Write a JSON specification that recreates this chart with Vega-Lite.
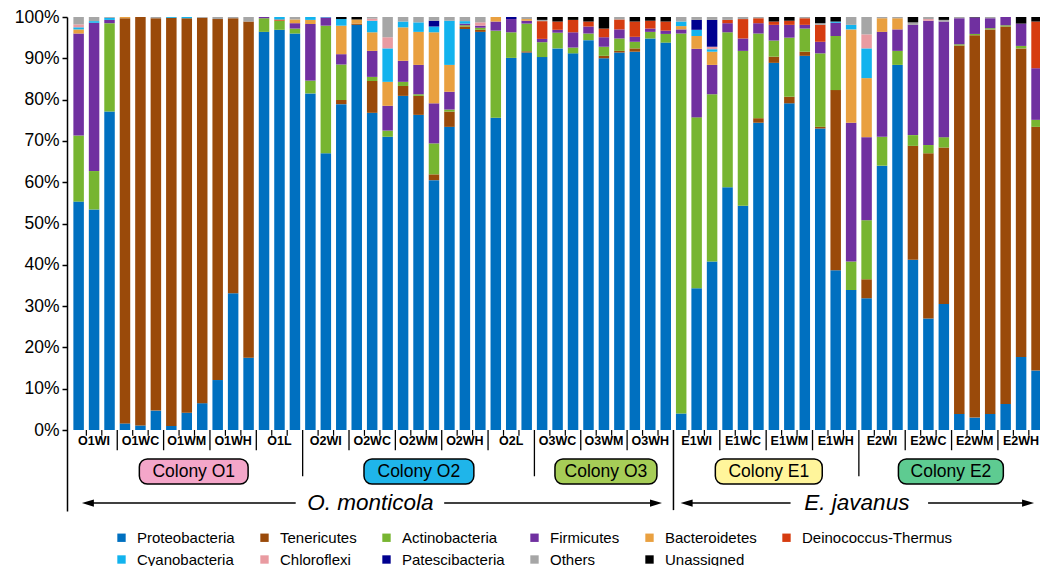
{
  "$schema": "https://vega.github.io/schema/vega-lite/v6.json",
  "width": 973,
  "height": 494,
  "autosize": {"type": "none"},
  "padding": {"left": 67, "top": 17, "right": 0, "bottom": 55},
  "background": "white",
  "config": {"view": {"stroke": null}, "font": "Liberation Sans"},
  "resolve": {"axis": {"x": "independent", "y": "independent"}},
  "datasets": {
    "samples": [
      {"n":1,"g":"O1WI","Proteobacteria":55.3,"Actinobacteria":16.0,"Firmicutes":24.7,"Bacteroidetes":1.0,"Cyanobacteria":0.5,"Chloroflexi":0.7,"Others":1.8},
      {"n":2,"g":"O1WI","Proteobacteria":53.4,"Actinobacteria":9.3,"Firmicutes":35.9,"Cyanobacteria":0.4,"Others":1.0},
      {"n":3,"g":"O1WI","Proteobacteria":77.1,"Actinobacteria":21.4,"Firmicutes":0.8,"Cyanobacteria":0.5,"Others":0.2},
      {"n":4,"g":"O1WC","Proteobacteria":1.6,"Tenericutes":98.1,"Bacteroidetes":0.3},
      {"n":5,"g":"O1WC","Proteobacteria":1.1,"Tenericutes":98.9},
      {"n":6,"g":"O1WC","Proteobacteria":4.7,"Tenericutes":95.0,"Others":0.3},
      {"n":7,"g":"O1WM","Proteobacteria":1.0,"Tenericutes":98.8,"Cyanobacteria":0.2},
      {"n":8,"g":"O1WM","Proteobacteria":4.2,"Tenericutes":95.5,"Cyanobacteria":0.3},
      {"n":9,"g":"O1WM","Proteobacteria":6.5,"Tenericutes":93.3,"Others":0.2},
      {"n":10,"g":"O1WH","Proteobacteria":12.1,"Tenericutes":87.4,"Others":0.5},
      {"n":11,"g":"O1WH","Proteobacteria":33.1,"Tenericutes":66.6,"Others":0.3},
      {"n":12,"g":"O1WH","Proteobacteria":17.5,"Tenericutes":81.4,"Others":1.1},
      {"n":13,"g":"O1L","Proteobacteria":96.4,"Actinobacteria":3.3,"Firmicutes":0.3},
      {"n":14,"g":"O1L","Proteobacteria":96.9,"Actinobacteria":2.2,"Deinococcus-Thermus":0.3,"Cyanobacteria":0.6},
      {"n":15,"g":"O1L","Proteobacteria":96.0,"Actinobacteria":1.2,"Firmicutes":1.3,"Bacteroidetes":0.9,"Others":0.6},
      {"n":16,"g":"O2WI","Proteobacteria":81.5,"Actinobacteria":3.1,"Firmicutes":13.7,"Bacteroidetes":1.0,"Cyanobacteria":0.7},
      {"n":17,"g":"O2WI","Proteobacteria":67.0,"Actinobacteria":30.9,"Firmicutes":2.0,"Cyanobacteria":0.1},
      {"n":18,"g":"O2WI","Proteobacteria":78.9,"Tenericutes":1.0,"Actinobacteria":8.6,"Firmicutes":2.5,"Bacteroidetes":6.9,"Cyanobacteria":1.6,"Unassigned":0.5},
      {"n":19,"g":"O2WC","Proteobacteria":98.1,"Tenericutes":0.3,"Bacteroidetes":1.0,"Unassigned":0.6},
      {"n":20,"g":"O2WC","Proteobacteria":76.8,"Tenericutes":7.7,"Actinobacteria":1.0,"Firmicutes":6.3,"Bacteroidetes":4.5,"Cyanobacteria":2.8,"Chloroflexi":0.5,"Others":0.4},
      {"n":21,"g":"O2WC","Proteobacteria":71.0,"Actinobacteria":1.5,"Firmicutes":6.0,"Bacteroidetes":5.8,"Cyanobacteria":8.1,"Chloroflexi":2.7,"Others":4.9},
      {"n":22,"g":"O2WM","Proteobacteria":80.9,"Tenericutes":2.4,"Actinobacteria":1.0,"Firmicutes":5.1,"Bacteroidetes":8.1,"Cyanobacteria":1.4,"Others":1.1},
      {"n":23,"g":"O2WM","Proteobacteria":76.3,"Tenericutes":4.6,"Actinobacteria":0.4,"Firmicutes":7.1,"Bacteroidetes":8.0,"Cyanobacteria":2.3,"Others":1.3},
      {"n":24,"g":"O2WM","Proteobacteria":60.5,"Tenericutes":1.4,"Actinobacteria":7.5,"Firmicutes":9.7,"Bacteroidetes":17.2,"Cyanobacteria":1.4,"Patescibacteria":1.4,"Others":0.9},
      {"n":25,"g":"O2WH","Proteobacteria":73.4,"Tenericutes":3.7,"Actinobacteria":0.5,"Firmicutes":4.3,"Bacteroidetes":6.5,"Cyanobacteria":10.7,"Others":0.9},
      {"n":26,"g":"O2WH","Proteobacteria":97.1,"Tenericutes":0.6,"Actinobacteria":0.3,"Firmicutes":0.4,"Cyanobacteria":0.6,"Others":1.0},
      {"n":27,"g":"O2WH","Proteobacteria":96.4,"Tenericutes":0.5,"Actinobacteria":0.5,"Firmicutes":0.5,"Chloroflexi":0.8,"Others":1.3},
      {"n":28,"g":"O2L","Proteobacteria":75.6,"Actinobacteria":21.1,"Firmicutes":2.2,"Bacteroidetes":1.1},
      {"n":29,"g":"O2L","Proteobacteria":90.1,"Actinobacteria":6.2,"Firmicutes":3.2,"Patescibacteria":0.5},
      {"n":30,"g":"O2L","Proteobacteria":91.4,"Tenericutes":0.3,"Actinobacteria":6.7,"Firmicutes":0.7,"Bacteroidetes":0.4,"Others":0.5},
      {"n":31,"g":"O3WC","Proteobacteria":90.3,"Actinobacteria":3.6,"Firmicutes":0.8,"Deinococcus-Thermus":4.3,"Others":0.3,"Unassigned":0.7},
      {"n":32,"g":"O3WC","Proteobacteria":92.4,"Actinobacteria":3.8,"Firmicutes":0.7,"Deinococcus-Thermus":2.0,"Unassigned":1.1},
      {"n":33,"g":"O3WC","Proteobacteria":91.2,"Actinobacteria":1.4,"Firmicutes":3.7,"Deinococcus-Thermus":3.0,"Unassigned":0.7},
      {"n":34,"g":"O3WM","Proteobacteria":94.4,"Actinobacteria":1.6,"Firmicutes":1.7,"Deinococcus-Thermus":1.2,"Unassigned":1.1},
      {"n":35,"g":"O3WM","Proteobacteria":90.0,"Tenericutes":0.6,"Actinobacteria":2.2,"Firmicutes":2.3,"Deinococcus-Thermus":2.1,"Unassigned":2.8},
      {"n":36,"g":"O3WM","Proteobacteria":91.4,"Tenericutes":0.4,"Actinobacteria":3.0,"Firmicutes":2.2,"Deinococcus-Thermus":2.4,"Others":0.6},
      {"n":37,"g":"O3WH","Proteobacteria":91.6,"Tenericutes":0.8,"Actinobacteria":1.6,"Firmicutes":1.2,"Deinococcus-Thermus":3.7,"Unassigned":1.1},
      {"n":38,"g":"O3WH","Proteobacteria":94.8,"Actinobacteria":1.6,"Firmicutes":0.8,"Deinococcus-Thermus":1.9,"Unassigned":0.9},
      {"n":39,"g":"O3WH","Proteobacteria":93.8,"Actinobacteria":2.1,"Firmicutes":0.8,"Deinococcus-Thermus":2.2,"Unassigned":1.1},
      {"n":40,"g":"E1WI","Proteobacteria":4.0,"Actinobacteria":92.0,"Firmicutes":1.0,"Bacteroidetes":0.8,"Cyanobacteria":1.1,"Others":1.1},
      {"n":41,"g":"E1WI","Proteobacteria":34.3,"Actinobacteria":41.4,"Firmicutes":16.6,"Bacteroidetes":3.1,"Cyanobacteria":1.5,"Patescibacteria":2.4,"Others":0.7},
      {"n":42,"g":"E1WI","Proteobacteria":40.8,"Actinobacteria":40.5,"Firmicutes":7.1,"Bacteroidetes":3.2,"Cyanobacteria":0.6,"Chloroflexi":0.6,"Patescibacteria":6.5,"Others":0.7},
      {"n":43,"g":"E1WC","Proteobacteria":58.8,"Actinobacteria":37.5,"Firmicutes":2.2,"Deinococcus-Thermus":0.8,"Others":0.7},
      {"n":44,"g":"E1WC","Proteobacteria":54.3,"Actinobacteria":37.5,"Firmicutes":3.0,"Deinococcus-Thermus":4.7,"Others":0.5},
      {"n":45,"g":"E1WC","Proteobacteria":74.4,"Tenericutes":1.1,"Actinobacteria":20.5,"Firmicutes":2.5,"Deinococcus-Thermus":1.2,"Others":0.3},
      {"n":46,"g":"E1WM","Proteobacteria":88.9,"Tenericutes":1.5,"Actinobacteria":3.9,"Firmicutes":3.8,"Deinococcus-Thermus":0.8,"Unassigned":1.1},
      {"n":47,"g":"E1WM","Proteobacteria":79.1,"Tenericutes":1.6,"Actinobacteria":14.3,"Firmicutes":3.1,"Deinococcus-Thermus":1.0,"Unassigned":0.9},
      {"n":48,"g":"E1WM","Proteobacteria":90.6,"Tenericutes":1.0,"Actinobacteria":5.6,"Firmicutes":0.9,"Deinococcus-Thermus":1.6,"Others":0.3},
      {"n":49,"g":"E1WH","Proteobacteria":73.0,"Tenericutes":0.4,"Actinobacteria":17.8,"Firmicutes":2.8,"Deinococcus-Thermus":4.1,"Others":0.4,"Unassigned":1.5},
      {"n":50,"g":"E1WH","Proteobacteria":38.7,"Tenericutes":43.6,"Actinobacteria":13.1,"Firmicutes":3.2,"Cyanobacteria":0.3,"Unassigned":1.1},
      {"n":51,"g":"E1WH","Proteobacteria":33.9,"Actinobacteria":6.9,"Firmicutes":33.6,"Bacteroidetes":22.6,"Cyanobacteria":1.1,"Others":1.9},
      {"n":52,"g":"E2WI","Proteobacteria":31.9,"Tenericutes":4.6,"Actinobacteria":14.3,"Firmicutes":20.1,"Bacteroidetes":14.3,"Cyanobacteria":7.2,"Chloroflexi":3.4,"Others":4.2},
      {"n":53,"g":"E2WI","Proteobacteria":64.0,"Actinobacteria":7.0,"Firmicutes":25.4,"Bacteroidetes":3.3,"Others":0.3},
      {"n":54,"g":"E2WI","Proteobacteria":88.4,"Actinobacteria":3.4,"Firmicutes":5.2,"Bacteroidetes":2.7,"Others":0.3},
      {"n":55,"g":"E2WC","Proteobacteria":41.2,"Tenericutes":27.6,"Actinobacteria":2.6,"Firmicutes":26.7,"Others":0.6,"Unassigned":1.3},
      {"n":56,"g":"E2WC","Proteobacteria":27.0,"Tenericutes":40.0,"Actinobacteria":2.0,"Firmicutes":30.1,"Chloroflexi":0.4,"Others":0.5},
      {"n":57,"g":"E2WC","Proteobacteria":30.5,"Tenericutes":37.9,"Actinobacteria":2.5,"Firmicutes":28.0,"Others":0.4,"Unassigned":0.7},
      {"n":58,"g":"E2WM","Proteobacteria":3.9,"Tenericutes":89.2,"Actinobacteria":0.3,"Firmicutes":6.3,"Others":0.3},
      {"n":59,"g":"E2WM","Proteobacteria":3.0,"Tenericutes":92.6,"Actinobacteria":0.3,"Firmicutes":4.0,"Unassigned":0.1},
      {"n":60,"g":"E2WM","Proteobacteria":3.9,"Tenericutes":93.1,"Actinobacteria":0.3,"Firmicutes":2.4,"Others":0.3},
      {"n":61,"g":"E2WH","Proteobacteria":6.3,"Tenericutes":91.4,"Actinobacteria":0.3,"Firmicutes":2.0},
      {"n":62,"g":"E2WH","Proteobacteria":17.7,"Tenericutes":74.7,"Actinobacteria":0.6,"Firmicutes":5.4,"Unassigned":1.6},
      {"n":63,"g":"E2WH","Proteobacteria":14.4,"Tenericutes":59.0,"Actinobacteria":1.7,"Firmicutes":12.5,"Deinococcus-Thermus":11.3,"Unassigned":1.1}
    ],
    "phyla": [
      {"key":"Proteobacteria","rank":1},
      {"key":"Tenericutes","rank":2},
      {"key":"Actinobacteria","rank":3},
      {"key":"Firmicutes","rank":4},
      {"key":"Bacteroidetes","rank":5},
      {"key":"Deinococcus-Thermus","rank":6},
      {"key":"Cyanobacteria","rank":7},
      {"key":"Chloroflexi","rank":8},
      {"key":"Patescibacteria","rank":9},
      {"key":"Others","rank":10},
      {"key":"Unassigned","rank":11}
    ],
    "barTicks": [{"x":1.5},{"x":2.5},{"x":4.5},{"x":5.5},{"x":7.5},{"x":8.5},{"x":10.5},{"x":11.5},{"x":13.5},{"x":14.5},{"x":16.5},{"x":17.5},{"x":19.5},{"x":20.5},{"x":22.5},{"x":23.5},{"x":25.5},{"x":26.5},{"x":28.5},{"x":29.5},{"x":31.5},{"x":32.5},{"x":34.5},{"x":35.5},{"x":37.5},{"x":38.5},{"x":40.5},{"x":41.5},{"x":43.5},{"x":44.5},{"x":46.5},{"x":47.5},{"x":49.5},{"x":50.5},{"x":52.5},{"x":53.5},{"x":55.5},{"x":56.5},{"x":58.5},{"x":59.5},{"x":61.5},{"x":62.5}],
    "groupSeps": [{"x":3.5},{"x":6.5},{"x":9.5},{"x":12.5},{"x":18.5},{"x":21.5},{"x":24.5},{"x":27.5},{"x":33.5},{"x":36.5},{"x":42.5},{"x":45.5},{"x":48.5},{"x":54.5},{"x":57.5},{"x":60.5}],
    "colonySeps": [{"x":15.5},{"x":30.5},{"x":51.5}],
    "speciesSeps": [{"x":39.5}],
    "colonies": [
      {"colony":"Colony O1","x":4.93,"x2":11.97,"mid":8.45},
      {"colony":"Colony O2","x":19.47,"x2":26.58,"mid":23.02},
      {"colony":"Colony O3","x":31.83,"x2":38.43,"mid":35.13},
      {"colony":"Colony E1","x":42.21,"x2":49.13,"mid":45.67},
      {"colony":"Colony E2","x":54.06,"x2":60.85,"mid":57.46}
    ],
    "arrows": [
      {"x":1.6,"x2":15.05},
      {"x":24.66,"x2":38.37},
      {"x":40.35,"x2":47.08},
      {"x":55.98,"x2":62.45}
    ],
    "heads": [
      {"x":1.6,"dir":"left"},
      {"x":38.37,"dir":"right"},
      {"x":40.35,"dir":"left"},
      {"x":62.45,"dir":"right"}
    ],
    "species": [
      {"label":"O. monticola","x":19.88},
      {"label":"E. javanus","x":51.37}
    ]
  },
  "layer": [
    {
      "data": {"name": "samples"},
      "transform": [
        {"fold": ["Proteobacteria","Tenericutes","Actinobacteria","Firmicutes","Bacteroidetes","Deinococcus-Thermus","Cyanobacteria","Chloroflexi","Patescibacteria","Others","Unassigned"], "as": ["key","value"]},
        {"filter": "isValid(datum.value)"},
        {"lookup": "key", "from": {"data": {"name": "phyla"}, "key": "key", "fields": ["rank"]}}
      ],
      "mark": {"type": "bar", "width": 10.5, "clip": true},
      "encoding": {
        "x": {"field": "n", "type": "quantitative", "scale": {"domain": [0.571, 62.9], "nice": false, "zero": false}, "axis": null},
        "y": {"field": "value", "type": "quantitative", "stack": "zero",
              "scale": {"domain": [-19.61, 100], "nice": false, "zero": false},
              "axis": {"values": [0,10,20,30,40,50,60,70,80,90,100], "labelExpr": "datum.value + '%'", "title": null, "grid": false,
                       "domainColor": "black", "domainWidth": 1.5, "tickColor": "black", "tickWidth": 1.5, "tickSize": 5,
                       "labelFontSize": 17.5, "labelColor": "black", "labelPadding": 3, "labelFont": "Liberation Sans"}},
        "color": {"field": "key", "type": "nominal",
                  "scale": {"domain": ["Proteobacteria","Tenericutes","Actinobacteria","Firmicutes","Bacteroidetes","Deinococcus-Thermus","Cyanobacteria","Chloroflexi","Patescibacteria","Others","Unassigned"],
                            "range": ["#0070C0","#9A4A0A","#77B531","#7030A0","#E9A040","#D63C10","#12B3EE","#E99BA1","#00008F","#A6A6A6","#000000"]},
                  "legend": {"orient": "none", "legendX": 47, "legendY": 513, "direction": "horizontal", "columns": 6, "title": null,
                             "symbolType": "square", "symbolSize": 70, "symbolStrokeWidth": 0, "labelFontSize": 15, "labelColor": "black",
                             "labelFont": "Liberation Sans", "columnPadding": 22, "rowPadding": 6, "labelOffset": 8, "padding": 0, "labelLimit": 0}},
        "order": {"field": "rank", "type": "quantitative", "sort": "ascending"}
      }
    },
    {
      "mark": {"type": "rule", "color": "black", "strokeWidth": 1.5},
      "encoding": {"y": {"datum": 0, "type": "quantitative", "scale": {"domain": [-19.61, 100], "nice": false, "zero": false}, "axis": null}}
    },
    {
      "data": {"name": "barTicks"},
      "mark": {"type": "rule", "color": "black", "strokeWidth": 1.2},
      "encoding": {
        "x": {"field": "x", "type": "quantitative", "scale": {"domain": [0.571, 62.9], "nice": false, "zero": false}, "axis": null},
        "y": {"datum": 0, "type": "quantitative", "scale": {"domain": [-19.61, 100], "nice": false, "zero": false}, "axis": null},
        "y2": {"datum": -1.4}
      }
    },
    {
      "data": {"name": "groupSeps"},
      "mark": {"type": "rule", "color": "black", "strokeWidth": 1.3},
      "encoding": {
        "x": {"field": "x", "type": "quantitative", "scale": {"domain": [0.571, 62.9], "nice": false, "zero": false}, "axis": null},
        "y": {"datum": 0, "type": "quantitative", "scale": {"domain": [-19.61, 100], "nice": false, "zero": false}, "axis": null},
        "y2": {"datum": -4.9}
      }
    },
    {
      "data": {"name": "colonySeps"},
      "mark": {"type": "rule", "color": "black", "strokeWidth": 1.3},
      "encoding": {
        "x": {"field": "x", "type": "quantitative", "scale": {"domain": [0.571, 62.9], "nice": false, "zero": false}, "axis": null},
        "y": {"datum": 0, "type": "quantitative", "scale": {"domain": [-19.61, 100], "nice": false, "zero": false}, "axis": null},
        "y2": {"datum": -11.2}
      }
    },
    {
      "data": {"name": "speciesSeps"},
      "mark": {"type": "rule", "color": "black", "strokeWidth": 1.5},
      "encoding": {
        "x": {"field": "x", "type": "quantitative", "scale": {"domain": [0.571, 62.9], "nice": false, "zero": false}, "axis": null},
        "y": {"datum": 0, "type": "quantitative", "scale": {"domain": [-19.61, 100], "nice": false, "zero": false}, "axis": null},
        "y2": {"datum": -19.4}
      }
    },
    {
      "data": {"name": "samples"},
      "transform": [{"aggregate": [{"op": "mean", "field": "n", "as": "c"}], "groupby": ["g"]}],
      "mark": {"type": "text", "fontWeight": "bold", "fontSize": 12.5, "font": "Liberation Sans", "color": "black", "align": "center", "baseline": "middle"},
      "encoding": {
        "x": {"field": "c", "type": "quantitative", "scale": {"domain": [0.571, 62.9], "nice": false, "zero": false}, "axis": null},
        "y": {"datum": -2.6, "type": "quantitative", "scale": {"domain": [-19.61, 100], "nice": false, "zero": false}, "axis": null},
        "text": {"field": "g"}
      }
    },
    {
      "data": {"name": "colonies"},
      "mark": {"type": "rect", "stroke": "black", "strokeWidth": 1.5, "cornerRadius": 8},
      "encoding": {
        "x": {"field": "x", "type": "quantitative", "scale": {"domain": [0.571, 62.9], "nice": false, "zero": false}, "axis": null},
        "x2": {"field": "x2"},
        "y": {"datum": -7.0, "type": "quantitative", "scale": {"domain": [-19.61, 100], "nice": false, "zero": false}, "axis": null},
        "y2": {"datum": -13.1},
        "fill": {"field": "colony", "type": "nominal", "legend": null,
                 "scale": {"domain": ["Colony O1","Colony O2","Colony O3","Colony E1","Colony E2"],
                           "range": ["#F4A6C9","#1FB5EA","#A6CD57","#FFF59B","#5ECB91"]}}
      }
    },
    {
      "data": {"name": "colonies"},
      "mark": {"type": "text", "fontSize": 17.5, "font": "Liberation Sans", "color": "black", "align": "center", "baseline": "middle"},
      "encoding": {
        "x": {"field": "mid", "type": "quantitative", "scale": {"domain": [0.571, 62.9], "nice": false, "zero": false}, "axis": null},
        "y": {"datum": -10.05, "type": "quantitative", "scale": {"domain": [-19.61, 100], "nice": false, "zero": false}, "axis": null},
        "text": {"field": "colony"}
      }
    },
    {
      "data": {"name": "arrows"},
      "mark": {"type": "rule", "color": "black", "strokeWidth": 1.5},
      "encoding": {
        "x": {"field": "x", "type": "quantitative", "scale": {"domain": [0.571, 62.9], "nice": false, "zero": false}, "axis": null},
        "x2": {"field": "x2"},
        "y": {"datum": -17.7, "type": "quantitative", "scale": {"domain": [-19.61, 100], "nice": false, "zero": false}, "axis": null}
      }
    },
    {
      "data": {"name": "heads"},
      "mark": {"type": "point", "filled": true, "color": "black", "opacity": 1, "size": 144},
      "encoding": {
        "x": {"field": "x", "type": "quantitative", "scale": {"domain": [0.571, 62.9], "nice": false, "zero": false}, "axis": null},
        "y": {"datum": -17.7, "type": "quantitative", "scale": {"domain": [-19.61, 100], "nice": false, "zero": false}, "axis": null},
        "shape": {"field": "dir", "type": "nominal", "legend": null,
                  "scale": {"domain": ["left","right"], "range": ["M-1,0L1,-0.6L1,0.6Z","M1,0L-1,-0.6L-1,0.6Z"]}}
      }
    },
    {
      "data": {"name": "species"},
      "mark": {"type": "text", "fontSize": 22.5, "fontStyle": "italic", "font": "Liberation Sans", "color": "black", "align": "center", "baseline": "middle"},
      "encoding": {
        "x": {"field": "x", "type": "quantitative", "scale": {"domain": [0.571, 62.9], "nice": false, "zero": false}, "axis": null},
        "y": {"datum": -17.7, "type": "quantitative", "scale": {"domain": [-19.61, 100], "nice": false, "zero": false}, "axis": null},
        "text": {"field": "label"}
      }
    }
  ]
}
